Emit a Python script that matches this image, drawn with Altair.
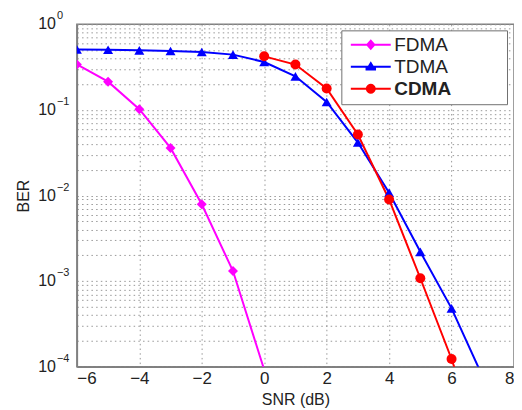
import altair as alt
import pandas as pd

# ---- data ----
series_names = ["FDMA", "TDMA", "CDMA"]
series_colors = ["#FF00FF", "#0000FF", "#FF0000"]
series_shapes = ["diamond", "triangle-up", "circle"]

snr_fdma = [-6, -5, -4, -3, -2, -1, 0]
ber_fdma = [0.34, 0.214, 0.102, 0.036, 0.0079, 0.00131, 0.000092]

snr_tdma = [-6, -5, -4, -3, -2, -1, 0, 1, 2, 3, 4, 5, 6, 7]
ber_tdma = [0.51, 0.505, 0.497, 0.488, 0.475, 0.443, 0.363, 0.247, 0.124,
            0.0416, 0.0108, 0.0022, 0.00048, 0.000076]

snr_cdma = [0, 1, 2, 3, 4, 5, 6, 7]
ber_cdma = [0.423, 0.339, 0.178, 0.0516, 0.009, 0.00108, 0.000123, 0.00001]

x_ticks = [-6, -4, -2, 0, 2, 4, 6, 8]
y_decades = [1.0, 1e-1, 1e-2, 1e-3, 1e-4]
y_exponents = ["0", "−1", "−2", "−3", "−4"]

# ---- build tables ----
rows = []
for name, xs, ys in [("FDMA", snr_fdma, ber_fdma),
                     ("TDMA", snr_tdma, ber_tdma),
                     ("CDMA", snr_cdma, ber_cdma)]:
    for i, (x, y) in enumerate(zip(xs, ys)):
        rows.append({"scheme": name, "snr": x, "ber": y, "order": i})
df = pd.DataFrame(rows)

ylab = pd.DataFrame({"ber": y_decades, "base": ["10"] * len(y_decades), "exp": y_exponents})

# grid tick values for the log axis (major + minor)
y_grid = []
for d in [1e-4, 1e-3, 1e-2, 1e-1]:
    for k in range(1, 10):
        y_grid.append(round(k * d, 10))
y_grid.append(1.0)

# legend symbols: line with marker (custom paths, unit = 5px)
legend_paths = [
    "M-1,-0.2L2.2,-0.2L3,-1.1L3.8,-0.2L7,-0.2L7,0.2L3.8,0.2L3,1.1L2.2,0.2L-1,0.2Z",
    "M-1,-0.2L2.45,-0.2L3,-1.1L3.55,-0.2L7,-0.2L7,0.2L4.05,0.2L4.05,0.75L1.95,0.75L1.95,0.2L-1,0.2Z",
    "M-1,-0.2L2.02,-0.2A1,1 0 0,1 3.98,-0.2L7,-0.2L7,0.2L3.98,0.2A1,1 0 0,1 2.02,0.2L-1,0.2Z",
]

FONT = "Liberation Sans"

color_scale = alt.Scale(domain=series_names, range=series_colors)
legend = alt.Legend(
    title="WWW",
    titleOrient="right",
    titleColor="white",
    titleFontSize=18,
    titlePadding=0,
    titleFont=FONT,
    orient="none",
    legendX=265,
    legendY=6,
    fillColor="white",
    strokeColor="#707070",
    padding=5,
    symbolSize=100,
    symbolStrokeWidth=0,
    symbolOpacity=1,
    labelFontSize=19,
    labelFont=FONT,
    labelColor="#222222",
    labelFontWeight=alt.ExprRef(expr="datum.value == 'CDMA' ? 'bold' : 'normal'"),
    labelOffset=29,
    rowPadding=2,
    labelLimit=300,
)

x_enc = alt.X("snr:Q", scale=alt.Scale(domain=[-6, 8], nice=False),
              axis=alt.Axis(values=x_ticks, title="SNR (dB)", format="d"))
y_enc = alt.Y("ber:Q", scale=alt.Scale(type="log", domain=[1e-4, 1], nice=False),
              axis=alt.Axis(values=y_grid, labels=False, title="BER"))

line_layers = []
point_layers = []
for name, col, shp in zip(series_names, series_colors, series_shapes):
    line_layers.append(
        alt.Chart(df).transform_filter(f"datum.scheme == '{name}'").mark_line(
            strokeWidth=2, clip=True, color=col
        ).encode(x=x_enc, y=y_enc, order="order:Q")
    )
    point_layers.append(
        alt.Chart(df).transform_filter(
            f"datum.scheme == '{name}' && datum.ber >= 0.0001"
        ).mark_point(filled=True, size=100, opacity=1, shape=shp, clip=True, color=col).encode(
            x=x_enc, y=y_enc,
        )
    )

# legend-only layer (no data drawn)
legend_layer = alt.Chart(df).transform_filter("false").mark_point(
    filled=True, opacity=1
).encode(
    x=x_enc, y=y_enc,
    color=alt.Color("scheme:N", scale=color_scale, legend=legend),
    shape=alt.Shape("scheme:N", scale=alt.Scale(domain=series_names, range=legend_paths),
                    legend=legend),
)

# y tick labels: "10" with superscript exponent
ybase = alt.Chart(ylab).mark_text(
    align="right", baseline="middle", font=FONT, fontSize=16, color="#222222"
).encode(x=alt.value(-21), y=alt.Y("ber:Q"), text="base:N")
yexp = alt.Chart(ylab).mark_text(
    align="left", baseline="middle", font=FONT, fontSize=11, color="#222222", dy=-8
).encode(x=alt.value(-20), y=alt.Y("ber:Q"), text="exp:N")

chart = alt.layer(*line_layers, *point_layers, legend_layer, ybase, yexp).properties(
    width=438, height=343,
    autosize=alt.AutoSizeParams(type="none"),
    padding={"left": 69, "top": 16, "right": 0, "bottom": 45},
).configure_view(
    stroke="#808080", strokeWidth=1.5
).configure_axis(
    grid=True,
    gridDash=[1.5, 3.2],
    gridColor="#999999",
    gridWidth=1,
    gridOpacity=1,
    ticks=False,
    domainColor="#808080",
    domainWidth=1.5,
    labelFont=FONT,
    labelFontSize=17,
    labelColor="#222222",
    titleFont=FONT,
    titleFontSize=16,
    titleFontWeight="normal",
    titleColor="#222222",
).configure_axisX(
    labelPadding=4, titlePadding=5
).configure_axisY(
    titlePadding=45
)

chart.save("out.html", embed_options={"renderer": "svg", "actions": False})
